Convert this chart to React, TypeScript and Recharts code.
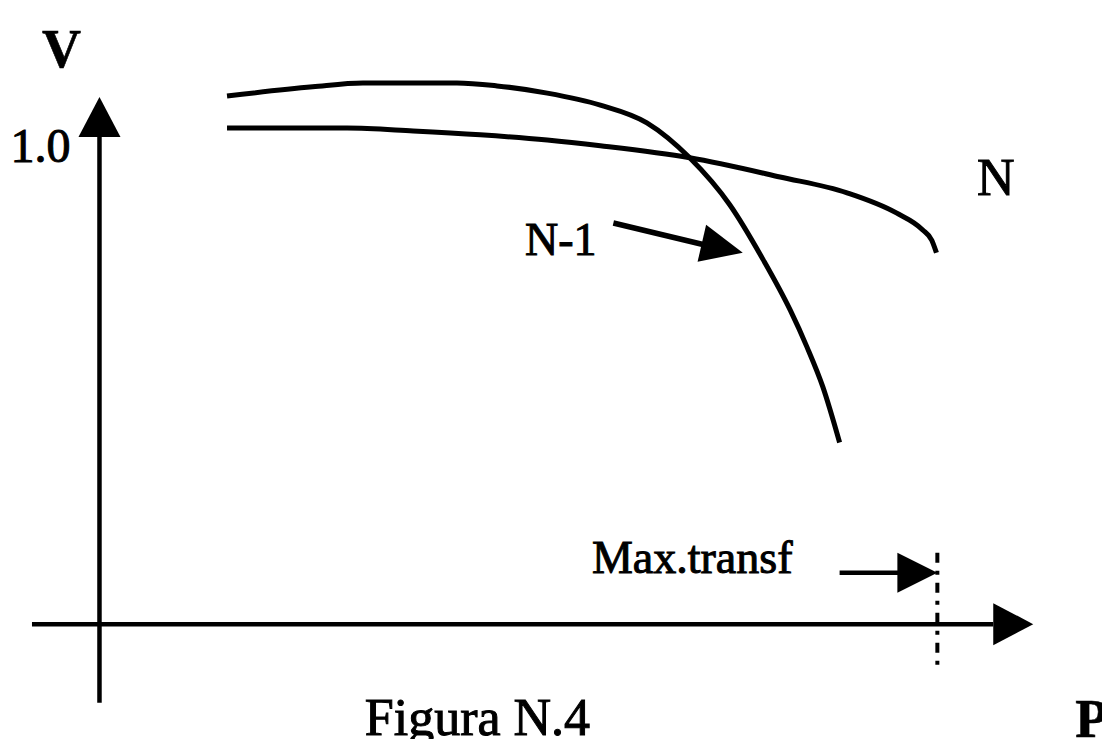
import React from 'react'
import { LineChart, Line, XAxis, YAxis, ReferenceLine, ReferenceDot } from 'recharts'

// curve N (normal operation)
const nP = [13.7, 26.6, 33.7, 40.9, 48.1, 53.8, 63.4, 73.1, 80.3, 85.6, 88.4, 89.4, 89.9]
const nV = [1.035, 1.035, 1.029, 1.021, 1.01, 0.998, 0.973, 0.933, 0.9, 0.858, 0.823, 0.801, 0.775]

// curve N-1 (one element out)
const n1P = [13.7, 22.9, 28.3, 33.7, 38.4, 42.7, 48.1, 53.8, 58.8, 63.4, 67.7, 71.3, 74.2, 76.0, 77.7, 79.5]
const n1V = [1.102, 1.121, 1.129, 1.129, 1.129, 1.123, 1.108, 1.083, 1.046, 0.973, 0.875, 0.76, 0.655, 0.578, 0.495, 0.379]

const maxTransf = 90
const yTick = 1.0

const nData = nP.map((p, i) => ({ p, v: nV[i] }))
const n1Data = n1P.map((p, i) => ({ p, v: n1V[i] }))

const FONT = '"Liberation Serif", "Times New Roman", serif'
const INK = '#000'

// arrowhead: tip sits on the reference point, pointing along angle (deg, screen space)
function arrowHead(len: number, half: number, angle: number) {
  return (props: any) => {
    const { cx, cy } = props
    if (cx == null || cy == null) return <g />
    return (
      <polygon
        points={`${cx},${cy} ${cx - len},${cy - half} ${cx - len},${cy + half}`}
        transform={`rotate(${angle} ${cx} ${cy})`}
        fill={INK}
      />
    )
  }
}

function textMark(value: string, size: number, opts: { bold?: boolean; anchor?: 'start' | 'end' | 'middle' } = {}) {
  return (props: any) => {
    const { cx, cy } = props
    if (cx == null || cy == null) return <g />
    return (
      <text
        x={cx}
        y={cy}
        fontFamily={FONT}
        fontSize={size}
        fontWeight={opts.bold ? 'bold' : 'normal'}
        textAnchor={opts.anchor ?? 'start'}
        fill={INK}
        stroke={INK}
        strokeWidth={opts.bold ? 0.6 : 1}
      >
        {value}
      </text>
    )
  }
}

export default function App() {
  return (
    <div style={{ position: 'absolute', left: 0, top: 0, background: '#fff' }}>
      <LineChart width={1102} height={739} margin={{ top: 49, right: 25, bottom: 19, left: 25 }}>
        <XAxis type="number" dataKey="p" domain={[-8, 105]} hide allowDataOverflow />
        <YAxis type="number" dataKey="v" domain={[-0.2, 1.2]} hide allowDataOverflow />

        {/* axes */}
        <ReferenceLine segment={[{ x: -7.25, y: 0 }, { x: 96, y: 0 }]} stroke={INK} strokeWidth={4.5} ifOverflow="visible" />
        <ReferenceDot x={100.3} y={0} ifOverflow="visible" shape={arrowHead(40, 21, 0)} />
        <ReferenceLine segment={[{ x: 0, y: -0.164 }, { x: 0, y: 1.02 }]} stroke={INK} strokeWidth={4.5} ifOverflow="visible" />
        <ReferenceDot x={0} y={1.1} ifOverflow="visible" shape={arrowHead(40, 21, -90)} />

        {/* transformer limit */}
        <ReferenceLine
          segment={[{ x: maxTransf, y: 0.149 }, { x: maxTransf, y: -0.091 }]}
          stroke={INK}
          strokeWidth={4}
          strokeDasharray="10 8 4 8"
          ifOverflow="visible"
        />
        <ReferenceLine segment={[{ x: 79.5, y: 0.107 }, { x: 86, y: 0.107 }]} stroke={INK} strokeWidth={4.5} ifOverflow="visible" />
        <ReferenceDot x={maxTransf} y={0.107} ifOverflow="visible" shape={arrowHead(40, 20, 0)} />

        {/* N-1 pointer */}
        <ReferenceLine segment={[{ x: 55.2, y: 0.837 }, { x: 65.5, y: 0.789 }]} stroke={INK} strokeWidth={5.5} ifOverflow="visible" />
        <ReferenceDot x={69.1} y={0.775} ifOverflow="visible" shape={arrowHead(42, 19, 13)} />

        <Line data={n1Data} dataKey="v" type="monotone" stroke={INK} strokeWidth={5} dot={false} isAnimationActive={false} />
        <Line data={nData} dataKey="v" type="monotone" stroke={INK} strokeWidth={5} dot={false} isAnimationActive={false} />

        {/* labels */}
        <ReferenceDot x={-6.18} y={1.163} ifOverflow="visible" shape={textMark('V', 54, { bold: true })} />
        <ReferenceDot x={-3.1} y={yTick - 0.036} ifOverflow="visible" shape={textMark('1.0', 48, { anchor: 'end' })} />
        <ReferenceDot x={94.25} y={0.896} ifOverflow="visible" shape={textMark('N', 52)} />
        <ReferenceDot x={45.7} y={0.77} ifOverflow="visible" shape={textMark('N-1', 46)} />
        <ReferenceDot x={52.9} y={0.107} ifOverflow="visible" shape={textMark('Max.transf', 46)} />
        <ReferenceDot x={28.5} y={-0.231} ifOverflow="visible" shape={textMark('Figura N.4', 52)} />
        <ReferenceDot x={104.8} y={-0.235} ifOverflow="visible" shape={textMark('P', 54, { bold: true })} />
      </LineChart>
    </div>
  )
}
